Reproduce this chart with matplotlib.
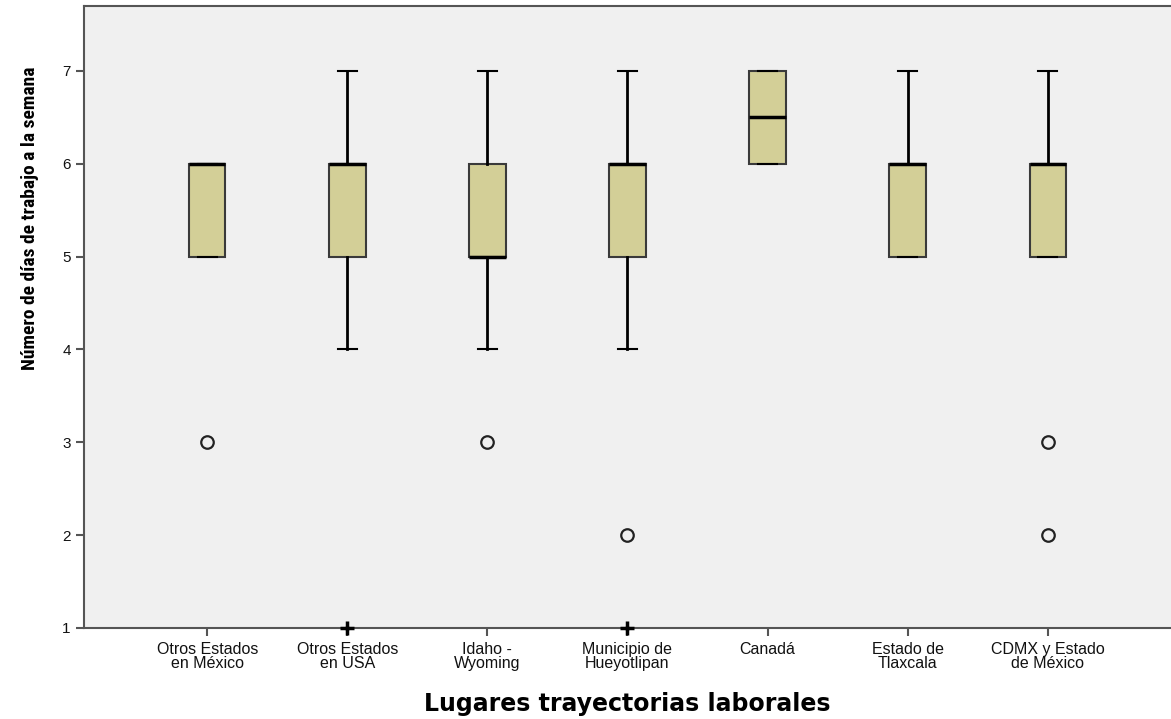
import matplotlib.pyplot as plt

lugares = ["Otros Estados\nen México", "Otros Estados\nen USA", "Idaho -\nWyoming",
           "Municipio de\nHueyotlipan", "Canadá", "Estado de\nTlaxcala",
           "CDMX y Estado\nde México"]
q1 = [5, 5, 5, 5, 6, 5, 5]
mediana = [6, 6, 5, 6, 6.5, 6, 6]
q3 = [6, 6, 6, 6, 7, 6, 6]
bigote_min = [5, 4, 4, 4, 6, 5, 5]
bigote_max = [6, 7, 7, 7, 7, 7, 7]
atipicos = [[3], [], [3], [2], [], [], [3, 2]]
extremos = [[], [1], [], [1], [], [], []]

stats = []
for i in range(len(lugares)):
    stats.append({"q1": q1[i], "med": mediana[i], "q3": q3[i],
                  "whislo": bigote_min[i], "whishi": bigote_max[i],
                  "fliers": []})

fig = plt.figure(figsize=(11.71, 7.19), dpi=100)
ax = fig.add_axes([0.0717, 0.1266, 0.9283, 0.8651])
ax.set_facecolor("#F0F0F0")

pos = list(range(len(lugares)))
ax.bxp(stats, positions=pos, widths=0.26, capwidths=0.136, patch_artist=True,
       showfliers=False,
       boxprops=dict(facecolor="#D3CF97", edgecolor="#3a3a3a", linewidth=1.5),
       medianprops=dict(color="black", linewidth=2.5),
       whiskerprops=dict(color="black", linewidth=2),
       capprops=dict(color="black", linewidth=1.5))

for i in pos:
    if atipicos[i]:
        ax.plot([i] * len(atipicos[i]), atipicos[i], "o", markersize=9,
                markerfacecolor="none", markeredgecolor="#222222", markeredgewidth=1.6)
    if extremos[i]:
        ax.plot([i] * len(extremos[i]), extremos[i], "+", markersize=10,
                color="black", markeredgewidth=2.5, clip_on=False, zorder=5)

ax.set_xlim(-0.88, 6.88)
ax.set_ylim(1, 7.7)
ax.set_yticks([1, 2, 3, 4, 5, 6, 7])
ax.set_xticks(pos)
ax.set_xticklabels(lugares, fontsize=11.5, family="Liberation Sans", linespacing=0.95,
                   color="black")
for t in ax.get_yticklabels():
    t.set_fontsize(11)
    t.set_family("Liberation Sans")
ax.tick_params(axis="both", length=6, width=1.5, color="#555555", labelcolor="#111111")
ax.tick_params(axis="x", pad=4)

for s in ["left", "bottom", "top"]:
    ax.spines[s].set_color("#555555")
    ax.spines[s].set_linewidth(1.5)
ax.spines["right"].set_visible(False)

ax.set_ylabel("Número de días de trabajo a la semana", fontsize=14, fontweight="bold",
              family=["Roboto Condensed", "Roboto"])
ax.yaxis.set_label_coords(-0.041, 0.659)
ax.set_xlabel("Lugares trayectorias laborales", fontsize=17, fontweight="bold",
              family="DejaVu Sans")
ax.xaxis.set_label_coords(0.5, -0.103)

fig.savefig("out.png", dpi=100)
